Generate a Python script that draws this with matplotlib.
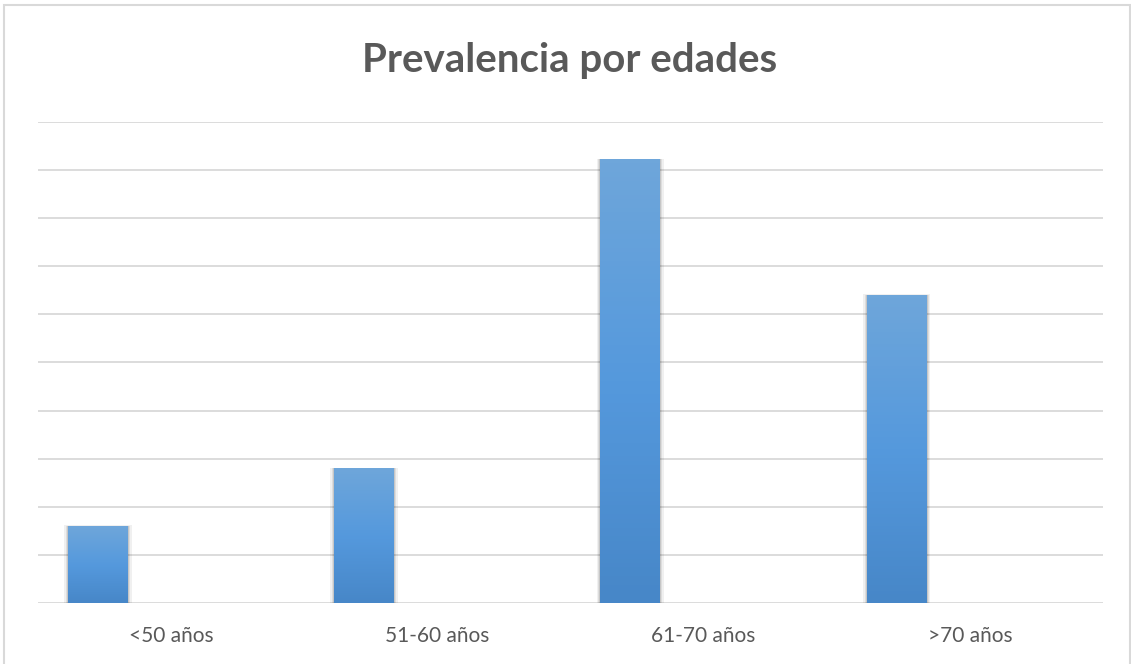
# bar chart: prevalencia por edades

import numpy as np
import matplotlib.pyplot as plt
from matplotlib.patches import Rectangle
from matplotlib.colors import LinearSegmentedColormap

categorias = ["<50 años", "51-60 años", "61-70 años", ">70 años"]
valores = [1.6, 2.8, 9.22, 6.4]
titulo = "Prevalencia por edades"

plt.rcParams["font.family"] = ["Lato", "DejaVu Sans"]

fig = plt.figure(figsize=(11.31, 6.64), dpi=100)
ax = fig.add_axes([0.0336, 0.0919, 0.9416, 0.7244])

# outer chart border
fig.patches.append(Rectangle((0.0035, -0.01), 0.9955, 1.0025, transform=fig.transFigure,
                             fill=False, edgecolor="#D9D9D9", linewidth=1.5))

x = np.arange(len(categorias))
bars = ax.bar(x - 0.275, valores, width=0.225, color="#5B9BD5", zorder=3)

# vertical gradient inside each bar
grad = LinearSegmentedColormap.from_list("g", ["#4787C8", "#5599DD", "#6EA6DA"])
for b in bars:
    x0, y0 = b.get_x(), b.get_y()
    w, h = b.get_width(), b.get_height()
    im = ax.imshow(np.linspace(0, 1, 100).reshape(-1, 1), cmap=grad, origin="lower",
                   extent=[x0, x0 + w, y0, y0 + h], aspect="auto", zorder=4)
    im.set_clip_path(b)
    # soft shadow on the sides
    for k, a in [(0.014, 0.06), (0.008, 0.08), (0.004, 0.10)]:
        ax.add_patch(Rectangle((x0 - k, y0), w + 2 * k, h + k, facecolor="#000000",
                               alpha=a, edgecolor="none", zorder=2))

ax.set_xlim(-0.5, 3.5)
ax.set_ylim(0, 10)
ax.set_yticks(np.arange(0, 11, 1))
ax.yaxis.grid(True, color="#D9D9D9", linewidth=1.3, zorder=0)
ax.set_axisbelow(True)
ax.tick_params(axis="y", left=False, labelleft=False)
ax.tick_params(axis="x", bottom=False, labelsize=15, labelcolor="#595959", pad=13)
ax.set_xticks(x)
ax.set_xticklabels(categorias)
for s in ax.spines.values():
    s.set_visible(False)

fig.text(0.504, 0.8916, titulo, ha="center", va="baseline", fontsize=29,
         fontweight="bold", color="#595959")

fig.savefig("out.png", dpi=100, facecolor="white")
